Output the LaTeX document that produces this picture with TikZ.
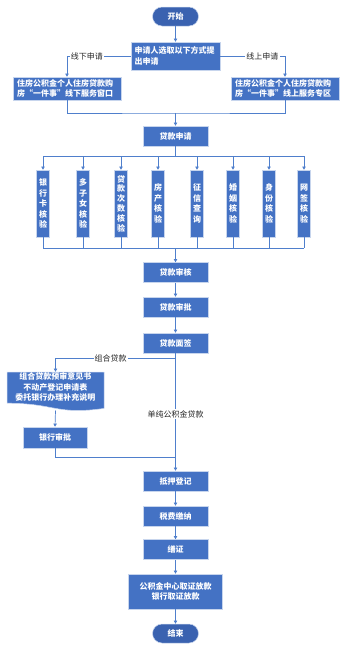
\documentclass[tikz,border=0pt]{standalone}
\usepackage{fontspec}
\setmainfont{Noto Sans CJK SC}
\XeTeXlinebreaklocale "zh"
\XeTeXlinebreakskip = 0pt plus 1pt
\usetikzlibrary{arrows.meta}
\definecolor{boxblue}{HTML}{4472C4}
\definecolor{termblue}{HTML}{3A62B0}
\definecolor{lineblue}{HTML}{4F7FCC}
\begin{document}
\begin{tikzpicture}[x=1pt,y=-1pt,
  box/.style={fill=boxblue, draw=white!70!boxblue, line width=0.5pt, text=white,
    font=\fontsize{8}{10.5}\selectfont\bfseries, inner sep=0pt, align=center},
  term/.style={box, fill=termblue, rounded corners=9.5pt, minimum width=46pt, minimum height=19pt},
  mbox/.style={box, minimum width=65pt, minimum height=20pt},
  vbox/.style={box, minimum width=13pt, minimum height=67pt, text width=9pt},
  conn/.style={draw=lineblue, line width=0.7pt},
  arr/.style={conn, -{Triangle[length=3.2pt,width=3.4pt]}},
  lab/.style={fill=white, inner sep=1.2pt, text=black!85, font=\fontsize{8}{10}\selectfont}]
\useasboundingbox (0,0) rectangle (348,653);

\node[term] (start) at (175.5,16.5) {开始};
\node[box, minimum width=89pt, minimum height=28pt, text width=82pt, align=left] (choose) at (175.5,56) {申请人选取以下方式提\\出申请};
\node[box, minimum width=108pt, minimum height=23pt, text width=100pt, align=left] (offline) at (67,88.5) {住房公积金个人住房贷款购\\房“一件事”线下服务窗口};
\node[box, minimum width=108pt, minimum height=23pt, text width=100pt, align=left] (online) at (285,88.5) {住房公积金个人住房贷款购\\房“一件事”线上服务专区};
\node[mbox] (apply) at (175.5,136) {贷款申请};

\node[vbox] (v1) at (43,203.5) {银\\行\\卡\\核\\验};
\node[vbox] (v2) at (83,203.5) {多\\子\\女\\核\\验};
\node[vbox, font=\fontsize{8}{9.8}\selectfont\bfseries] (v3) at (121,203.5) {贷\\款\\次\\数\\核\\验};
\node[vbox] (v4) at (158,203.5) {房\\产\\核\\验};
\node[vbox] (v5) at (197,203.5) {征\\信\\查\\询};
\node[vbox] (v6) at (233,203.5) {婚\\姻\\核\\验};
\node[vbox] (v7) at (269,203.5) {身\\份\\核\\验};
\node[vbox] (v8) at (304,203.5) {网\\签\\核\\验};

\node[mbox] (review) at (175.5,272.5) {贷款审核};
\node[mbox] (approve) at (175.5,307) {贷款审批};
\node[mbox] (sign) at (175.5,343) {贷款面签};

% document shape
\fill[boxblue] (7,372) -- (104,372) -- (104,408.4) .. controls (55.5,415.2) and (55.5,403.2) .. (7,403.2) -- cycle;
\draw[white!70!boxblue, line width=0.5pt] (7,372) -- (104,372) -- (104,408.4) .. controls (55.5,415.2) and (55.5,403.2) .. (7,403.2) -- cycle;
\node[box, fill=none, draw=none, minimum width=97pt, minimum height=30pt] (doc) at (55.5,387) {组合贷款预审意见书\\不动产登记申请表\\委托银行办理补充说明};
\coordinate (docb) at (55.5,410.5);
\node[box, minimum width=64pt, minimum height=21pt] (bank) at (55,437.5) {银行审批};

\node[mbox] (mortgage) at (175.5,481) {抵押登记};
\node[mbox] (tax) at (175.5,516) {税费缴纳};
\node[mbox] (cert) at (175.5,549.5) {缮证};
\node[box, minimum width=94pt, minimum height=35pt] (loan) at (175.5,591.5) {公积金中心取证放款\\银行取证放款};
\node[term] (end) at (175.5,633.5) {结束};

% connectors
\draw[arr] (start) -- (choose);
\draw[arr] (choose.west) -| node[lab, pos=0.345] {线下申请} (offline.north);
\draw[arr] (choose.east) -| node[lab, pos=0.325] {线上申请} (online.north);
\coordinate (m1) at (175.5,113);
\draw[conn] (offline.south) |- (m1) -| (online.south);
\draw[arr] (m1) -- (apply.north);

\coordinate (s1) at (175.5,156);
\coordinate (s2) at (175.5,248);
\draw[conn] (apply.south) -- (s1);
\draw[conn] (v1.north |- s1) -- (v8.north |- s1);
\draw[conn] (v1.south |- s2) -- (v8.south |- s2);
\foreach \v in {v1,v2,v3,v4,v5,v6,v7,v8}{
  \draw[arr] (\v.north |- s1) -- (\v.north);
  \draw[conn] (\v.south) -- (\v.south |- s2);
}
\draw[arr] (s2) -- (review.north);
\draw[arr] (review) -- (approve);
\draw[arr] (approve) -- (sign);

\coordinate (c1) at (175.5,358);
\draw[conn] (sign.south) -- (c1);
\draw[arr] (c1) -| node[lab, pos=0.27] {组合贷款} (doc.north);
\draw[arr] (c1) -- node[lab] {单纯公积金贷款} (mortgage.north);
\draw[arr] (docb) -- (bank.north);
\coordinate (c2) at (175.5,457);
\draw[conn] (bank.south) |- (c2);

\draw[arr] (mortgage) -- (tax);
\draw[arr] (tax) -- (cert);
\draw[arr] (cert) -- (loan);
\draw[arr] (loan) -- (end);
\end{tikzpicture}
\end{document}
